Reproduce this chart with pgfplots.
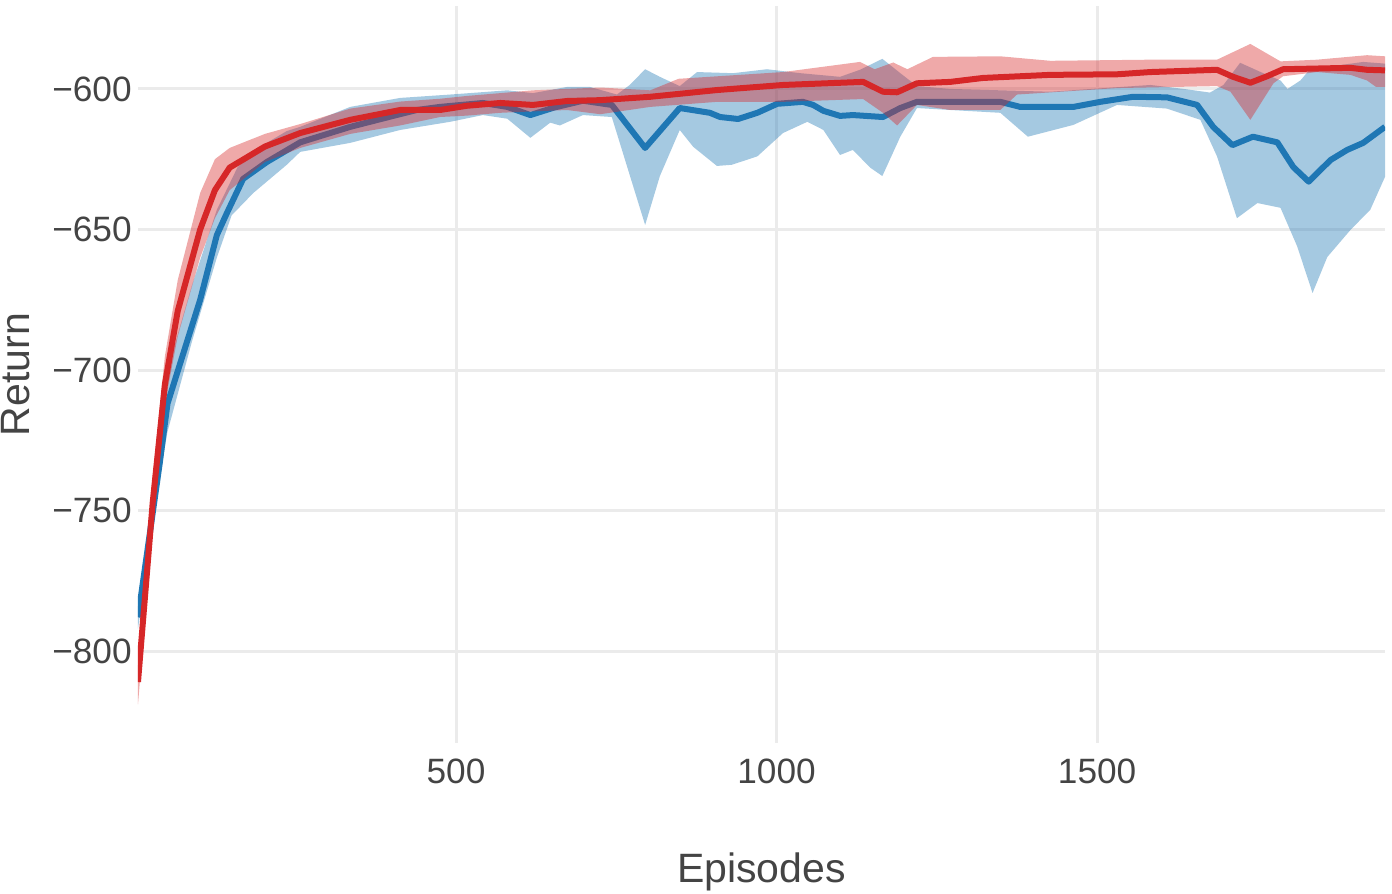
\documentclass[border=0pt]{standalone}
\usepackage{fontspec}
\setmainfont{Liberation Sans}
\usepackage{pgfplots}
\pgfplotsset{compat=1.18}

\definecolor{tabblue}{RGB}{31,119,180}
\definecolor{tabred}{RGB}{214,39,40}
\definecolor{txtgray}{RGB}{68,68,68}
\definecolor{gridgray}{RGB}{235,235,235}

\begin{document}
\begin{tikzpicture}
  \useasboundingbox (-69pt,-75.5pt) rectangle (627pt,371.5pt);
  \begin{axis}[
      at={(0,0)}, anchor=south west,
      scale only axis,
      width=623.5pt, height=368.5pt,
      xmin=4, xmax=1949,
      ymin=-832.7, ymax=-570.5,
      axis line style={draw=none},
      major tick length=0pt,
      xtick={500,1000,1500},
      xticklabels={500,1000,1500},
      ytick={-800,-750,-700,-650,-600},
      yticklabels={−800,−750,−700,−650,−600},
      grid=major,
      major grid style={gridgray, line width=1.5pt},
      tick label style={font=\fontsize{17.6}{20}\selectfont, text=txtgray},
      xticklabel style={anchor=base, inner sep=0pt, yshift=-20pt},
      yticklabel style={anchor=east, inner sep=0pt, xshift=-3pt},
      xlabel={Episodes},
      ylabel={Return},
      label style={font=\fontsize{20.5}{24}\selectfont, text=txtgray},
      xlabel style={at={(axis description cs:0.5,-0.1886)}, anchor=base},
      ylabel style={at={(axis description cs:-0.0978,0.5)}, anchor=center, rotate=0},
      clip=true,
    ]
    % blue band
    \addplot[draw=none, fill=tabblue, fill opacity=0.4] coordinates {
      (4,-784) (38,-728) (50,-700) (88,-670) (127,-643) (159,-628) (184,-622)
      (236,-615) (257,-613.5) (335,-606.4) (413,-603.2) (491,-602) (580,-600.5)
      (620,-601.5) (673,-599.3) (709,-599.3) (751,-602) (771,-598.6) (795,-593)
      (818,-595.7) (849,-599) (876,-594) (932,-594.4) (985,-593) (1037,-594.4)
      (1099,-595.7) (1130,-593.2) (1165,-589.3) (1193,-594.4) (1219,-599)
      (1271,-600) (1349,-600.5) (1427,-601) (1583,-598.6) (1635,-600)
      (1676,-601.3) (1697,-598.6) (1723,-590.7) (1759,-594.4) (1786,-597)
      (1797,-600) (1817,-597) (1832,-593) (1915,-590.4) (1949,-591)
      (1949,-631.3) (1926,-643) (1895,-650.2) (1859,-659.8) (1836,-672.6)
      (1812,-656) (1786,-642.3) (1750,-640.6) (1718,-646) (1687,-624)
      (1661,-611) (1609,-607) (1531,-605.7) (1463,-612.8) (1392,-617)
      (1349,-608.5) (1271,-607.5) (1219,-606.8) (1193,-617) (1165,-631)
      (1146,-628) (1119,-621.7) (1099,-623.5) (1073,-614.6) (1048,-611.7)
      (1010,-615.7) (970,-624) (930,-627) (907,-627.4) (870,-620.6)
      (849,-614.6) (818,-631) (795,-648.4) (743,-610) (698,-609.3) (662,-613)
      (647,-612) (616,-617.4) (580,-610.6) (542,-609.3) (491,-611.7)
      (413,-614.6) (335,-619.2) (257,-622.4) (236,-627) (184,-637) (150,-645)
      (127,-660) (88,-690) (50,-722) (38,-738) (4,-792)
    } -- cycle;
    % blue mean
    \addplot[tabblue, line width=3pt, line join=round] coordinates {
      (4,-788) (38,-733) (50,-712) (101,-675) (127,-652) (143,-644) (168,-632)
      (205,-626) (257,-619) (335,-613.5) (402,-609.6) (439,-607.5) (475,-606.4)
      (542,-605) (580,-606.4) (616,-609.3) (652,-606.7) (698,-604.2)
      (743,-605.7) (795,-621) (849,-606.8) (896,-608.5) (912,-610) (940,-610.7)
      (970,-608.5) (1001,-605.3) (1041,-604.6) (1057,-605.7) (1073,-607.8)
      (1099,-609.6) (1119,-609.3) (1166,-610) (1193,-606.8) (1219,-604.6)
      (1349,-604.6) (1380,-606.4) (1463,-606.4) (1505,-604.6) (1556,-602.8)
      (1609,-603) (1656,-605.7) (1681,-613.5) (1711,-620) (1743,-617)
      (1781,-619) (1806,-627.8) (1830,-633) (1864,-625.3) (1890,-621.7)
      (1915,-619.2) (1949,-613.5)
    };
    % red band
    \addplot[draw=none, fill=tabred, fill opacity=0.4] coordinates {
      (4,-805) (27,-738) (46,-695) (66,-668) (101,-637) (124,-625) (147,-621)
      (202,-616) (257,-612.5) (335,-607) (413,-604.5) (475,-603.5) (517,-602.5)
      (569,-601.5) (620,-600.5) (673,-600) (725,-599.5) (803,-600.5)
      (847,-596.4) (1010,-594) (1130,-590.4) (1153,-593) (1182,-590.6)
      (1204,-593) (1244,-588.6) (1349,-588.4) (1427,-590) (1583,-589.6)
      (1687,-589.6) (1739,-584) (1786,-590.2) (1843,-589.6) (1921,-588)
      (1949,-588.4)
      (1949,-599.3) (1935,-599.3) (1921,-597) (1895,-595) (1843,-594)
      (1790,-595.5) (1775,-598) (1739,-611) (1708,-601) (1687,-599)
      (1531,-599.7) (1375,-602) (1349,-607.5) (1271,-607.5) (1219,-605.7)
      (1188,-613) (1166,-608.5) (1135,-603.6) (1010,-604.6) (907,-604.6)
      (803,-606.4) (725,-609) (673,-607.5) (620,-608) (569,-608.5)
      (517,-609.5) (475,-610) (413,-613) (335,-616) (257,-621) (202,-626)
      (147,-636) (124,-646) (101,-660) (66,-688) (46,-712) (27,-755) (4,-819)
    } -- cycle;
    % red mean
    \addplot[tabred, line width=3pt, line join=round] coordinates {
      (4,-811) (27,-747) (46,-705) (66,-679) (101,-650) (124,-636) (147,-628)
      (202,-620.5) (257,-615.7) (335,-611) (413,-607.5) (475,-607.5)
      (517,-606) (569,-605) (620,-605.7) (673,-604.3) (725,-604) (803,-602.8)
      (907,-600.4) (1010,-598.6) (1135,-597.5) (1166,-601) (1188,-601.2)
      (1219,-598) (1271,-597.5) (1322,-596.1) (1427,-595) (1531,-594.8)
      (1583,-594) (1687,-593.2) (1712,-595.7) (1739,-597.8) (1765,-595.5)
      (1790,-593) (1895,-592.5) (1921,-593.2) (1949,-593.4)
    };
  \end{axis}
\end{tikzpicture}
\end{document}
